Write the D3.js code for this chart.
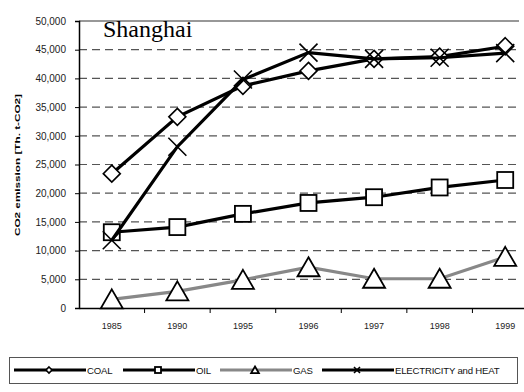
<!DOCTYPE html>
<html><head><meta charset="utf-8">
<script src="https://cdn.jsdelivr.net/npm/d3@7"></script>
<style>body{margin:0;background:#fff}svg{display:block}</style>
</head><body><svg id="c" width="524" height="392"></svg>
<script>
const years = ["1985","1990","1995","1996","1997","1998","1999"];
const coal = [23400, 33300, 38700, 41300, 43400, 43800, 45600];
const oil  = [13200, 14100, 16400, 18300, 19300, 21000, 22300];
const gas  = [1500, 2900, 4900, 7100, 5100, 5100, 8900];
const elec = [11800, 28100, 39800, 44500, 43400, 43600, 44400];
const yTicks = [0,5000,10000,15000,20000,25000,30000,35000,40000,45000,50000];
const seriesNames = ["COAL","OIL","GAS","ELECTRICITY and HEAT"];

const svg = d3.select("#c");
const x = d3.scaleBand().domain(years).range([79, 538]);
const y = d3.scaleLinear().domain([0,50000]).range([308, 21]);
const font = "Liberation Sans, Arial, sans-serif";

// gridlines
svg.append("g").selectAll("line").data(yTicks.filter(d=>d>0)).join("line")
  .attr("x1",79).attr("x2",519).attr("y1",d=>y(d)).attr("y2",d=>y(d))
  .attr("stroke",d=>d===50000?"#333":"#555").attr("stroke-width",1.2)
  .attr("stroke-dasharray",d=>d===50000?null:"8,5");

// y axis
const ya = svg.append("g").attr("transform","translate(79,0)")
  .call(d3.axisLeft(y).tickValues(yTicks).tickSize(4).tickPadding(9).tickFormat(d3.format(",")));
ya.select(".domain").attr("stroke","#000").attr("stroke-width",1.5);
ya.selectAll(".tick line").attr("stroke","#000");
ya.selectAll("text").attr("font-family",font).attr("font-size",10).attr("fill","#222");

// x axis
const xa = svg.append("g").attr("transform","translate(0,308)")
  .call(d3.axisBottom(x).tickSize(0).tickPadding(15));
xa.select(".domain").attr("stroke","#000").attr("stroke-width",1.5);
xa.selectAll("text").attr("font-family",font).attr("font-size",9).attr("fill","#222");
// tick marks between categories
svg.append("g").selectAll("line").data(years.slice(1)).join("line")
  .attr("x1",d=>x(d)).attr("x2",d=>x(d)).attr("y1",308).attr("y2",313)
  .attr("stroke","#000").attr("stroke-width",1);

// title
svg.append("text").attr("x",103).attr("y",36.5).text("Shanghai")
  .attr("font-family","Liberation Serif, Times New Roman, serif").attr("font-size",24).attr("fill","#000");

// y-axis title
svg.append("text").attr("transform","translate(20,165) rotate(-90)")
  .attr("text-anchor","middle").attr("font-family",font).attr("font-weight","bold")
  .attr("font-size",8).attr("textLength",142).attr("lengthAdjust","spacingAndGlyphs")
  .text("CO2 emission [Th. t-CO2]");

function marker(g, type, cx, cy, s){
  if(type==="diamond"){
    g.append("path").attr("d",`M${cx},${cy-s}L${cx+s},${cy}L${cx},${cy+s}L${cx-s},${cy}Z`)
     .attr("fill","#fff").attr("stroke","#000").attr("stroke-width",1.6);
  } else if(type==="square"){
    g.append("rect").attr("x",cx-s).attr("y",cy-s).attr("width",2*s).attr("height",2*s)
     .attr("fill","#fff").attr("stroke","#000").attr("stroke-width",1.8);
  } else if(type==="triangle"){
    g.append("path").attr("d",`M${cx},${cy-s}L${cx+s*1.1},${cy+s*0.9}L${cx-s*1.1},${cy+s*0.9}Z`)
     .attr("fill","#fff").attr("stroke","#000").attr("stroke-width",1.8);
  } else {
    g.append("path").attr("d",`M${cx-s},${cy-s}L${cx+s},${cy+s}M${cx+s},${cy-s}L${cx-s},${cy+s}`)
     .attr("stroke","#000").attr("stroke-width",1.6).attr("fill","none");
  }
}

const series = [
  {name:seriesNames[0], vals:coal, color:"#000", type:"diamond", s:8.5},
  {name:seriesNames[1], vals:oil, color:"#000", type:"square", s:8},
  {name:seriesNames[2], vals:gas, color:"#888", type:"triangle", s:10},
  {name:seriesNames[3], vals:elec, color:"#000", type:"x", s:9}
];
const line = d3.line().x((d,i)=>x(years[i])+x.bandwidth()/2).y(d=>y(d));
series.forEach(s=>{
  const g = svg.append("g");
  g.append("path").attr("d",line(s.vals)).attr("fill","none").attr("stroke",s.color).attr("stroke-width",3.2);
  s.vals.forEach((v,i)=>marker(g,s.type,x(years[i])+x.bandwidth()/2,y(v),s.s));
});

// legend
svg.append("rect").attr("x",9.5).attr("y",357.5).attr("width",508).attr("height",26)
  .attr("fill","#fff").attr("stroke","#555").attr("stroke-width",1);
const lx = [14, 123, 220, 322];
const ly = 370;
series.forEach((s,i)=>{
  const g = svg.append("g");
  g.append("line").attr("x1",lx[i]).attr("x2",lx[i]+72).attr("y1",ly).attr("y2",ly)
    .attr("stroke",s.color).attr("stroke-width",3);
  marker(g,s.type,lx[i]+35,ly,s.type==="triangle"?3.5:3);
  g.append("text").attr("x",lx[i]+73).attr("y",ly+3.5).text(s.name)
    .attr("font-family",font).attr("font-size",9.6).attr("letter-spacing",-0.2).attr("fill","#111");
});
</script></body></html>
